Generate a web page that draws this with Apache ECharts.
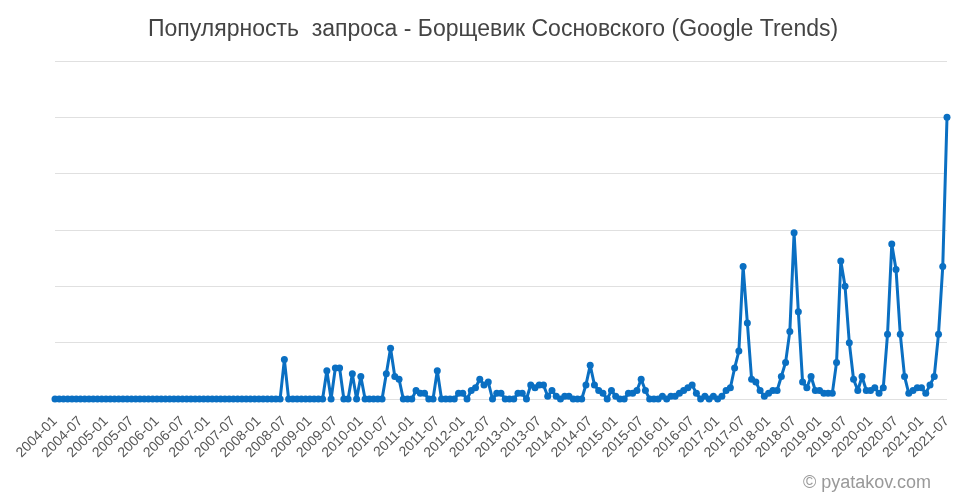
<!DOCTYPE html>
<html>
<head>
<meta charset="utf-8">
<script src="https://cdn.jsdelivr.net/npm/echarts@6/dist/echarts.min.js"></script>
<style>
html,body{margin:0;padding:0;background:#fff;}
#c{width:961px;height:495px;}
</style>
</head>
<body>
<div id="c"></div>
<script>
var titleText = 'Популярность  запроса - Борщевик Сосновского (Google Trends)';
var watermark = '© pyatakov.com';
var startYear = 2004, endYear = 2021, endMonth = 7;

var months = [];
for (var y = startYear; y <= endYear; y++) {
  for (var m = 1; m <= 12; m++) {
    if (y === endYear && m > endMonth) break;
    months.push(y + '-' + (m < 10 ? '0' + m : '' + m));
  }
}

var popularity = [
  0,0,0,0,0,0,0,0,0,0,0,0,
  0,0,0,0,0,0,0,0,0,0,0,0,
  0,0,0,0,0,0,0,0,0,0,0,0,
  0,0,0,0,0,0,0,0,0,0,0,0,
  0,0,0,0,0,0,14,0,0,0,0,0,
  0,0,0,0,10,0,11,11,0,0,9,0,
  8,0,0,0,0,0,9,18,8,7,0,0,
  0,3,2,2,0,0,10,0,0,0,0,2,
  2,0,3,4,7,5,6,0,2,2,0,0,
  0,2,2,0,5,4,5,5,1,3,1,0,
  1,1,0,0,0,5,12,5,3,2,0,3,
  1,0,0,2,2,3,7,3,0,0,0,1,
  0,1,1,2,3,4,5,2,0,1,0,1,
  0,1,3,4,11,17,47,27,7,6,3,1,
  2,3,3,8,13,24,59,31,6,4,8,3,
  3,2,2,2,13,49,40,20,7,3,8,3,
  3,4,2,4,23,55,46,23,8,2,3,4,
  4,2,5,8,23,47,100
];

var yMin = 0, yMax = 120, yStep = 20;

var chart = echarts.init(document.getElementById('c'), null, {renderer: 'canvas'});
chart.setOption({
  animation: false,
  backgroundColor: '#ffffff',
  title: {
    text: titleText,
    left: 143,
    top: 13,
    textStyle: {
      fontFamily: 'Liberation Sans, Arial, sans-serif',
      fontSize: 23,
      fontWeight: 'normal',
      color: '#444444'
    }
  },
  graphic: [{
    type: 'text',
    right: 30,
    top: 474,
    style: {
      text: watermark,
      fontFamily: 'Liberation Sans, Arial, sans-serif',
      fontSize: 18,
      fill: '#999999'
    }
  }],
  grid: {left: 55, right: 14, top: 61, bottom: 96, containLabel: false},
  xAxis: {
    type: 'category',
    data: months,
    boundaryGap: false,
    axisLine: {show: false},
    axisTick: {show: false},
    axisLabel: {
      interval: 5,
      rotate: 45,
      fontFamily: 'Liberation Sans, Arial, sans-serif',
      fontSize: 14,
      color: '#555555',
      margin: 20
    },
    splitLine: {show: false}
  },
  yAxis: {
    type: 'value',
    min: yMin,
    max: yMax,
    interval: yStep,
    axisLine: {show: false},
    axisTick: {show: false},
    axisLabel: {show: false},
    splitLine: {lineStyle: {color: '#e0e0e0', width: 1}}
  },
  series: [{
    type: 'line',
    data: popularity,
    symbol: 'circle',
    symbolSize: 7,
    showSymbol: true,
    showAllSymbol: true,
    lineStyle: {color: '#0a6fc2', width: 3},
    itemStyle: {color: '#0a6fc2'}
  }]
});
</script>
</body>
</html>
